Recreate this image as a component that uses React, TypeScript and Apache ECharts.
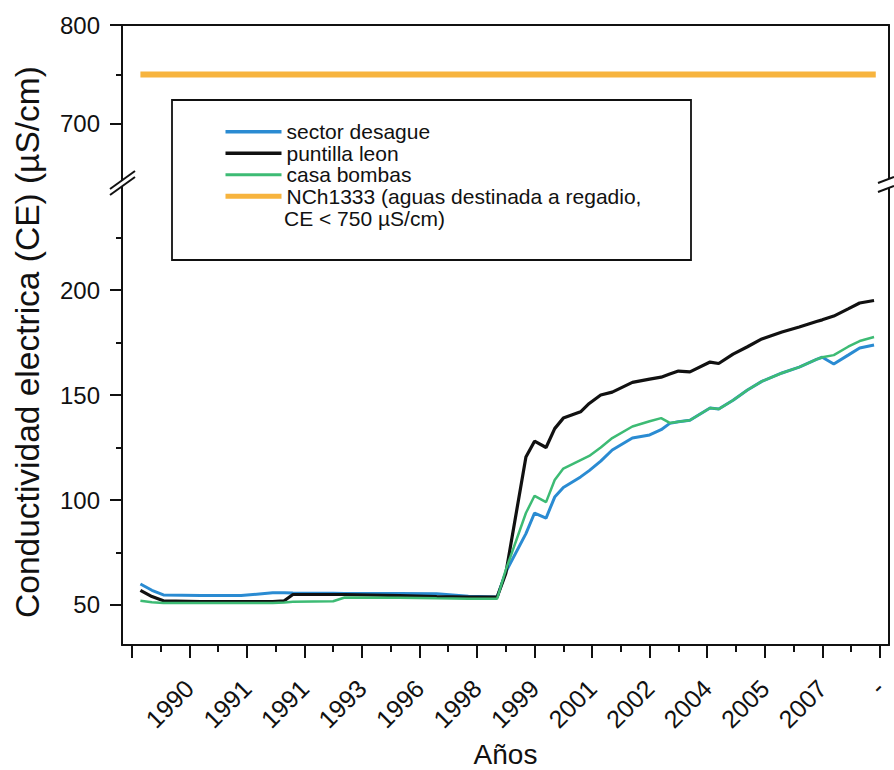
import { useEffect, useRef } from "react";
import * as echarts from "echarts";

// Posición de cada muestra sobre el eje de años (unidades del eje)
const muestra = [
  1.5, 3.5, 5.5, 12, 19, 24.5, 26.5, 28, 35, 37, 46.5, 53, 58.5, 63.5, 65,
  68.5, 70, 72, 73.5, 75, 78, 79.5, 81.5, 83.5, 87, 90, 92, 93.5, 95, 97,
  100.5, 102, 104.5, 107, 109.5, 113, 116, 119, 120, 122, 124.5, 126.5, 129,
];

// Conductividad eléctrica (µS/cm) por estación
const sectorDesague = [
  60, 57, 54.8, 54.5, 54.5, 55.8, 55.8, 55.7, 55.6, 55.5, 55.5, 55.3, 54.2, 53.8, 65.7,
  84, 93.8, 91.4, 101.4, 106, 111, 114, 118.5, 123.8, 129.5, 131, 133.5, 136.5, 137.3, 138,
  143.8, 143.3, 147.5, 152.4, 156.5, 160.5, 163.3, 167, 168, 164.8, 169, 172.4, 173.8,
];
const puntillaLeon = [
  57, 54, 52, 51.6, 51.6, 51.6, 52, 55, 55, 55, 54.5, 54, 53.8, 53.8, 65,
  120.5, 128, 125, 134, 139, 142, 146, 150, 151.4, 156, 157.6, 158.5, 160, 161.4, 161,
  165.7, 165, 169.5, 173, 176.7, 180, 182.4, 185, 185.8, 187.6, 191, 193.8, 195,
];
const casaBombas = [
  52, 51.3, 51, 51, 51, 51, 51.2, 51.5, 51.8, 53.6, 53.5, 53.2, 53, 53, 66.7,
  93.8, 102, 99, 109.5, 115, 119, 121, 125, 129.5, 135, 137.5, 139, 136.7, 137.3, 138,
  143.8, 143.3, 147.5, 152.4, 156.5, 160.5, 163.3, 167, 168, 169, 173, 175.7, 177.6,
];
const limiteNCh1333 = 750;

// Eje X: marcas y etiquetas de años
const ticksMayoresX = [0, 10, 20, 30, 40, 50, 60, 70, 80, 90, 100, 110, 120, 130];
const ticksMenoresX = [5, 15, 25, 35, 45, 55, 65, 75, 85, 95, 105, 115, 125];
const posEtiquetasX = [10, 20, 30, 40, 50, 60, 70, 80, 90, 100, 110, 120, 130];
const etiquetasAnos = ["1990", "1991", "1991", "1993", "1996", "1998", "1999", "2001", "2002", "2004", "2005", "2007", "-"];

// Eje Y (tramo superior e inferior)
const ticksSupMayores = [700, 800];
const ticksSupMenores = [750];
const ticksInfMayores = [50, 100, 150, 200];
const ticksInfMenores = [75, 125, 175, 225];

const FONT = "'Liberation Sans', Arial, Helvetica, sans-serif";
const INK = "#111";

const COLOR_DESAGUE = "#2a8bd2";
const COLOR_PUNTILLA = "#111";
const COLOR_BOMBAS = "#3dbb74";
const COLOR_NCH = "#f7b43e";

const X_MIN = -1.7;
const X_MAX = 131.6;

export default function App() {
  const ref = useRef<HTMLDivElement>(null);

  useEffect(() => {
    if (!ref.current) return;
    const chart = echarts.init(ref.current, undefined, { renderer: "svg" });

    const pares = (vals: number[]) => vals.map((v, i) => [muestra[i], v]);
    const lineaLimite = [
      [muestra[0], limiteNCh1333],
      [muestra[muestra.length - 1] + 0.3, limiteNCh1333],
    ];

    const ejeLinea = { show: true, onZero: false, lineStyle: { color: INK, width: 2 } };
    const sinLinea = { show: false, onZero: false };
    const etiqueta = { fontSize: 24, color: INK, fontFamily: FONT, margin: 22 };

    chart.setOption({
      animation: false,
      backgroundColor: "#fff",
      grid: [
        { left: 122, right: 5, top: 25, height: 155, show: false, outerBoundsMode: "none" },
        { left: 122, right: 5, top: 180, height: 465, show: false, outerBoundsMode: "none" },
      ],
      xAxis: [
        {
          gridIndex: 0, type: "value", min: X_MIN, max: X_MAX, position: "top",
          axisLine: ejeLinea, axisTick: { show: false }, axisLabel: { show: false }, splitLine: { show: false },
        },
        {
          gridIndex: 1, type: "value", min: X_MIN, max: X_MAX, position: "bottom",
          axisLine: ejeLinea,
          axisTick: { show: true, customValues: ticksMayoresX, length: 13, lineStyle: { color: INK, width: 2 } },
          axisLabel: {
            show: true,
            customValues: posEtiquetasX,
            formatter: (v: number) => etiquetasAnos[posEtiquetasX.indexOf(Math.round(v))] ?? "",
            rotate: 45,
            margin: 39,
            fontSize: 25,
            color: INK,
            fontFamily: FONT,
          },
          splitLine: { show: false },
          name: "Años",
          nameLocation: "middle",
          nameGap: 95,
          nameTextStyle: { fontSize: 28, color: INK, fontFamily: FONT },
        },
        {
          gridIndex: 1, type: "value", min: X_MIN, max: X_MAX, position: "bottom",
          axisLine: sinLinea,
          axisTick: { show: true, customValues: ticksMenoresX, length: 7, lineStyle: { color: INK, width: 2 } },
          axisLabel: { show: false }, splitLine: { show: false },
        },
      ],
      yAxis: [
        {
          gridIndex: 0, type: "value", min: 643.4, max: 800, position: "left",
          axisLine: ejeLinea,
          axisTick: { show: true, customValues: ticksSupMayores, length: 12, lineStyle: { color: INK, width: 2 } },
          axisLabel: { show: true, customValues: ticksSupMayores, ...etiqueta },
          splitLine: { show: false },
        },
        {
          gridIndex: 0, type: "value", min: 643.4, max: 800, position: "left",
          axisLine: sinLinea,
          axisTick: { show: true, customValues: ticksSupMenores, length: 6, lineStyle: { color: INK, width: 2 } },
          axisLabel: { show: false }, splitLine: { show: false },
        },
        {
          gridIndex: 0, type: "value", min: 643.4, max: 800, position: "right",
          axisLine: ejeLinea, axisTick: { show: false }, axisLabel: { show: false }, splitLine: { show: false },
        },
        {
          gridIndex: 1, type: "value", min: 30.95, max: 252.4, position: "left",
          axisLine: ejeLinea,
          axisTick: { show: true, customValues: ticksInfMayores, length: 12, lineStyle: { color: INK, width: 2 } },
          axisLabel: { show: true, customValues: ticksInfMayores, ...etiqueta },
          splitLine: { show: false },
        },
        {
          gridIndex: 1, type: "value", min: 30.95, max: 252.4, position: "left",
          axisLine: sinLinea,
          axisTick: { show: true, customValues: ticksInfMenores, length: 6, lineStyle: { color: INK, width: 2 } },
          axisLabel: { show: false }, splitLine: { show: false },
        },
        {
          gridIndex: 1, type: "value", min: 30.95, max: 252.4, position: "right",
          axisLine: ejeLinea, axisTick: { show: false }, axisLabel: { show: false }, splitLine: { show: false },
        },
      ],
      legend: {
        orient: "vertical",
        left: 223,
        top: 121,
        itemWidth: 56,
        itemHeight: 14,
        itemGap: 0,
        selectedMode: false,
        padding: 0,
        itemStyle: { opacity: 0 },
        textStyle: { fontSize: 21, lineHeight: 21.5, color: INK, fontFamily: FONT },
        data: [
          { name: "sector desague", lineStyle: { width: 3.5, color: COLOR_DESAGUE } },
          { name: "puntilla leon", lineStyle: { width: 3.5, color: COLOR_PUNTILLA } },
          { name: "casa bombas", lineStyle: { width: 3, color: COLOR_BOMBAS } },
          { name: "NCh1333 (aguas destinada a regadio,", lineStyle: { width: 5, color: COLOR_NCH } },
        ],
      },
      series: [
        {
          name: "sector desague", type: "line", xAxisIndex: 1, yAxisIndex: 3,
          data: pares(sectorDesague), symbol: "none", showSymbol: false,
          color: COLOR_DESAGUE, lineStyle: { color: COLOR_DESAGUE, width: 3 },
        },
        {
          name: "puntilla leon", type: "line", xAxisIndex: 1, yAxisIndex: 3,
          data: pares(puntillaLeon), symbol: "none", showSymbol: false,
          color: COLOR_PUNTILLA, lineStyle: { color: COLOR_PUNTILLA, width: 3.2 },
        },
        {
          name: "casa bombas", type: "line", xAxisIndex: 1, yAxisIndex: 3,
          data: pares(casaBombas), symbol: "none", showSymbol: false,
          color: COLOR_BOMBAS, lineStyle: { color: COLOR_BOMBAS, width: 2.5 },
        },
        {
          name: "NCh1333 (aguas destinada a regadio,", type: "line", xAxisIndex: 0, yAxisIndex: 0,
          data: lineaLimite, symbol: "none", showSymbol: false,
          color: COLOR_NCH, lineStyle: { color: COLOR_NCH, width: 6 },
        },
      ],
      graphic: [
        // marco de la leyenda
        {
          type: "rect", z: 5,
          shape: { x: 172, y: 100, width: 519, height: 160 },
          style: { fill: "none", stroke: INK, lineWidth: 1.8 },
        },
        {
          type: "text", z: 5, x: 284, y: 218,
          style: {
            text: "CE < 750 µS/cm)", fill: INK,
            font: `21px ${FONT}`, textAlign: "left", textVerticalAlign: "middle",
          },
        },
        // título del eje Y
        {
          type: "text", z: 5, x: 27, y: 342, rotation: Math.PI / 2,
          style: {
            text: "Conductividad electrica (CE) (µS/cm)", fill: INK,
            font: `33.5px ${FONT}`, textAlign: "center", textVerticalAlign: "middle",
          },
        },
        // corte del eje izquierdo
        {
          type: "polygon", z: 50,
          shape: { points: [[110, 189], [135, 171], [135, 177], [110, 195]] },
          style: { fill: "#fff", stroke: "none" },
        },
        { type: "line", z: 51, shape: { x1: 110, y1: 189, x2: 135, y2: 171 }, style: { stroke: INK, lineWidth: 2 } },
        { type: "line", z: 51, shape: { x1: 110, y1: 195, x2: 135, y2: 177 }, style: { stroke: INK, lineWidth: 2 } },
        // corte del eje derecho
        {
          type: "polygon", z: 50,
          shape: { points: [[878, 183], [894, 177], [894, 186], [878, 192]] },
          style: { fill: "#fff", stroke: "none" },
        },
        { type: "line", z: 51, shape: { x1: 878, y1: 183, x2: 894, y2: 177 }, style: { stroke: INK, lineWidth: 2 } },
        { type: "line", z: 51, shape: { x1: 878, y1: 192, x2: 894, y2: 186 }, style: { stroke: INK, lineWidth: 2 } },
      ],
    });

    return () => chart.dispose();
  }, []);

  return (
    <div
      ref={ref}
      style={{ position: "fixed", left: 0, top: 0, width: 894, height: 770, background: "#fff" }}
    />
  );
}
